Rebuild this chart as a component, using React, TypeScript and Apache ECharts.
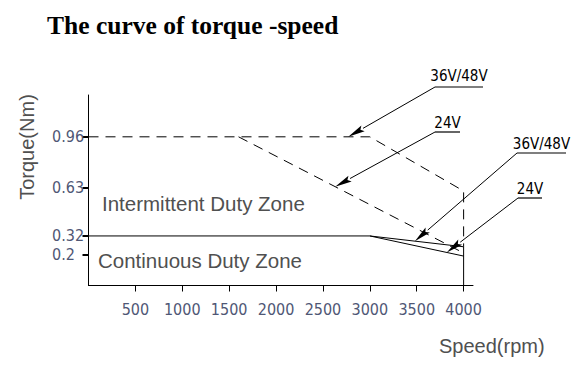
import React, { useEffect, useRef } from "react";
import * as echarts from "echarts";

// ---- data ----
const xTickValues = [500, 1000, 1500, 2000, 2500, 3000, 3500, 4000];
const yTickValues = [0.2, 0.32, 0.63, 0.96];

const contSpeed = [0, 3000];
const contTorque = [0.32, 0.32];
const cont36Speed = [3000, 4000];
const cont36Torque = [0.32, 0.25];
const cont24Speed = [3000, 4000];
const cont24Torque = [0.32, 0.19];
const edgeSpeed = [4000, 4000];
const edgeTorque = [0, 0.25];
const int36Speed = [0, 3000, 4000, 4000];
const int36Torque = [0.96, 0.96, 0.61, 0.25];
const int24Speed = [1600, 4000];
const int24Torque = [0.96, 0.21];

const annLabels = ["36V/48V", "24V", "36V/48V", "24V"];
const annTipSpeed = [2770, 2630, 3480, 3820];
const annTipTorque = [0.96, 0.638, 0.286, 0.213];

const zip = (a: number[], b: number[]) => a.map((v, i) => [v, b[i]]);

const NARROW = "'Liberation Sans Narrow', 'DejaVu Sans Condensed', sans-serif";
const SANS = "'Liberation Sans', Arial, sans-serif";
const TICK_COLOR = "#4f5775";
const TEXT_COLOR = "#505050";

export default function App() {
  const ref = useRef<HTMLDivElement>(null);
  useEffect(() => {
    if (!ref.current) return;
    const chart = echarts.init(ref.current, null, { renderer: "svg" });
    const solid = { color: "#000", width: 1, type: "solid" as const };
    const dashed = { color: "#000", width: 1, type: [10, 7] as any };
    const mk = (name: string, data: number[][], ls: any) => ({
      name,
      type: "line",
      data,
      symbol: "none",
      silent: true,
      lineStyle: ls,
      z: 3,
    });
    chart.setOption({
      animation: false,
      grid: { left: 88.5, right: 107, top: 95, bottom: 82.5 },
      xAxis: {
        type: "value",
        min: 0,
        max: 4100,
        interval: 500,
        axisLine: { show: true, lineStyle: { color: "#000", width: 1 } },
        axisTick: { show: true, customValues: xTickValues, length: 6, lineStyle: { color: "#000", width: 1 } },
        axisLabel: {
          customValues: xTickValues,
          formatter: (v: number) => String(v),
          margin: 16,
          fontFamily: NARROW,
          fontSize: 16,
          color: TICK_COLOR,
        },
        splitLine: { show: false },
      },
      yAxis: {
        type: "value",
        min: 0,
        max: 1.23,
        axisLine: { show: true, lineStyle: { color: "#000", width: 1 } },
        axisTick: { show: true, customValues: yTickValues, length: 6, lineStyle: { color: "#000", width: 2 } },
        axisLabel: {
          customValues: yTickValues,
          formatter: (v: number) => String(v),
          align: "left",
          margin: 36.5,
          fontFamily: NARROW,
          fontSize: 16,
          color: TICK_COLOR,
        },
        splitLine: { show: false },
      },
      series: [
        mk("cont", zip(contSpeed, contTorque), solid),
        mk("cont36", zip(cont36Speed, cont36Torque), solid),
        mk("cont24", zip(cont24Speed, cont24Torque), solid),
        mk("edge", zip(edgeSpeed, edgeTorque), solid),
        mk("int36", zip(int36Speed, int36Torque), dashed),
        mk("int24", zip(int24Speed, int24Torque), dashed),
      ],
    });

    // annotation layout (label anchors in pixels)
    const anchors = [
      { x: 435, y: 87, w: 48, dy: 11 },
      { x: 435, y: 132, w: 25, dy: 9 },
      { x: 517, y: 153, w: 49, dy: 9 },
      { x: 518, y: 198, w: 24, dy: 9 },
    ];
    const graphics: any[] = [
      {
        type: "text",
        left: 47,
        top: 12,
        style: {
          text: "The curve of torque -speed",
          fontFamily: "'Liberation Serif', 'Times New Roman', serif",
          fontWeight: "bold",
          fontSize: 25.5,
          fill: "#000",
        },
      },
      {
        type: "text",
        x: 27,
        y: 147,
        rotation: Math.PI / 2,
        style: {
          text: "Torque(Nm)",
          fontFamily: SANS,
          fontSize: 20,
          fill: TEXT_COLOR,
          align: "center",
          verticalAlign: "middle",
        },
      },
      {
        type: "text",
        x: 439,
        y: 346,
        style: {
          text: "Speed(rpm)",
          fontFamily: SANS,
          fontSize: 20,
          fill: TEXT_COLOR,
          align: "left",
          verticalAlign: "middle",
        },
      },
      {
        type: "text",
        x: 102,
        y: 203,
        style: {
          text: "Intermittent Duty Zone",
          fontFamily: SANS,
          fontSize: 20.5,
          fill: TEXT_COLOR,
          align: "left",
          verticalAlign: "middle",
        },
      },
      {
        type: "text",
        x: 98,
        y: 260,
        style: {
          text: "Continuous Duty Zone",
          fontFamily: SANS,
          fontSize: 20.5,
          fill: TEXT_COLOR,
          align: "left",
          verticalAlign: "middle",
        },
      },
    ];
    annLabels.forEach((lab, i) => {
      const a = anchors[i];
      const p = chart.convertToPixel({ xAxisIndex: 0, yAxisIndex: 0 }, [annTipSpeed[i], annTipTorque[i]]) as number[];
      const dx = p[0] - a.x;
      const dy = p[1] - a.y;
      const len = Math.sqrt(dx * dx + dy * dy);
      const ux = dx / len;
      const uy = dy / len;
      const L = 17;
      const w = 3.3;
      const bx = p[0] - ux * L;
      const by = p[1] - uy * L;
      const nx = -uy;
      const ny = ux;
      graphics.push(
        { type: "line", shape: { x1: a.x, y1: a.y, x2: bx, y2: by }, style: { stroke: "#000", lineWidth: 1 } },
        { type: "line", shape: { x1: a.x, y1: a.y, x2: a.x + a.w, y2: a.y }, style: { stroke: "#000", lineWidth: 1.2 } },
        {
          type: "polygon",
          shape: {
            points: [
              [p[0], p[1]],
              [bx + nx * w, by + ny * w],
              [p[0] - ux * (L - 3), p[1] - uy * (L - 3)],
              [bx - nx * w, by - ny * w],
            ],
          },
          style: { fill: "#000" },
        },
        {
          type: "text",
          x: a.x + a.w / 2,
          y: a.y - a.dy,
          style: {
            text: lab,
            fontFamily: NARROW,
            fontSize: 15,
            fill: "#000",
            align: "center",
            verticalAlign: "middle",
          },
        }
      );
    });
    chart.setOption({ graphic: graphics });
    return () => chart.dispose();
  }, []);
  return (
    <div
      ref={ref}
      style={{ position: "fixed", left: 0, top: 0, width: 580, height: 368, background: "#fff" }}
    />
  );
}
